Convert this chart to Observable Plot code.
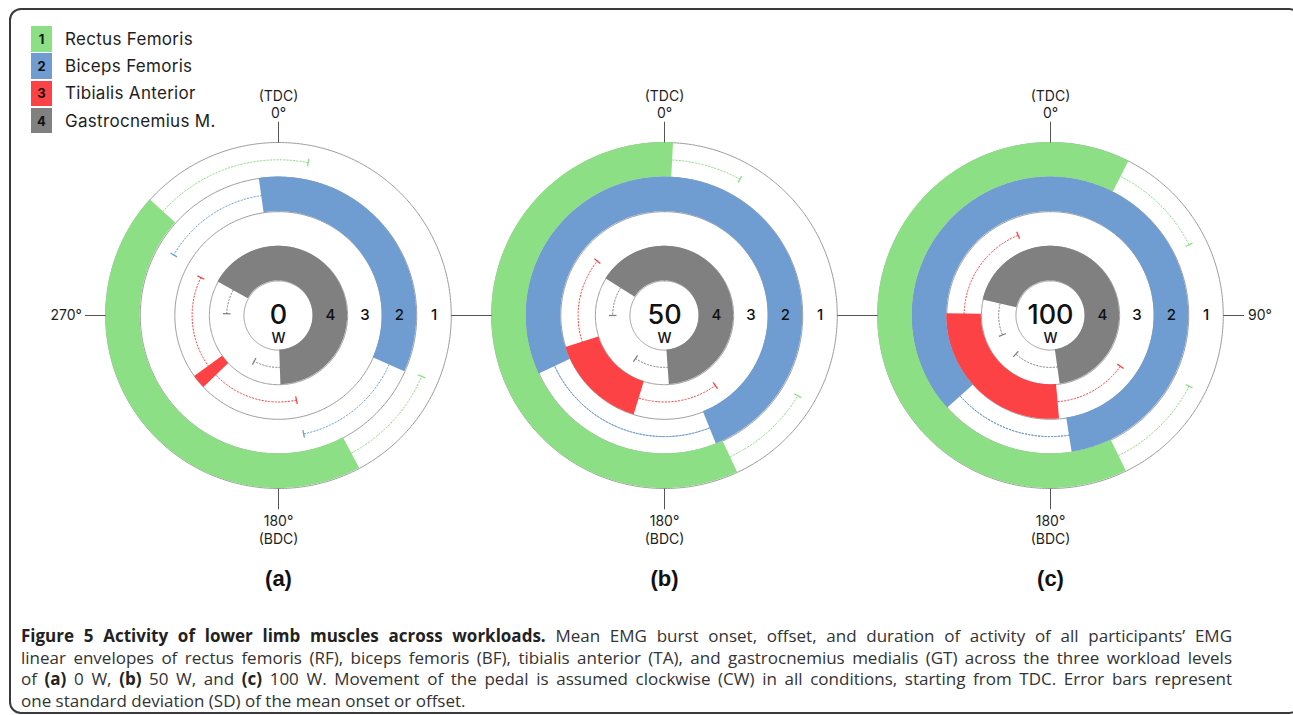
<!DOCTYPE html>
<html>
<head>
<meta charset="utf-8">
<script src="https://cdn.jsdelivr.net/npm/d3@7"></script>
<script src="https://cdn.jsdelivr.net/npm/@observablehq/plot@0.6"></script>
<style>
  html, body { margin: 0; padding: 0; background: #fff; }
  #page { position: relative; width: 1293px; height: 715px; overflow: hidden; font-family: Inter, "Noto Sans", sans-serif; color: #1e1e1e; }
  #frame { position: absolute; left: 9px; top: 8px; width: 1292px; height: 706px; border: 2px solid #3a3a3a; border-radius: 12px; box-sizing: border-box; }
  #chart { position: absolute; left: 0; top: 0; }
  #legend { position: absolute; left: 31px; top: 26px; }
  .row { display: flex; align-items: center; height: 25.5px; margin-bottom: 1.8px; }
  .sw { width: 21px; height: 25.5px; display: flex; align-items: center; justify-content: center; font: 700 13px Inter, sans-serif; color: #111; }
  .lb { margin-left: 13px; font-size: 17px; letter-spacing: 0.3px; color: #1e1e1e; }
  #caption { position: absolute; left: 21px; top: 625px; width: 1211px; font-family: "Open Sans", sans-serif; font-size: 17px; line-height: 21.5px; color: #333; }
  #caption .ln { white-space: nowrap; }
  #caption b { color: #222; }
</style>
</head>
<body>
<div id="page">
  <div id="frame"></div>
  <div id="chart"></div>
  <div id="legend"></div>
  <div id="caption">
    <div class="ln j"><b>Figure 5 Activity of lower limb muscles across workloads.</b> Mean EMG burst onset, offset, and duration of activity of all participants’ EMG</div>
    <div class="ln j">linear envelopes of rectus femoris (RF), biceps femoris (BF), tibialis anterior (TA), and gastrocnemius medialis (GT) across the three workload levels</div>
    <div class="ln j">of <b>(a)</b> 0 W, <b>(b)</b> 50 W, and <b>(c)</b> 100 W. Movement of the pedal is assumed clockwise (CW) in all conditions, starting from TDC. Error bars represent</div>
    <div class="ln">one standard deviation (SD) of the mean onset or offset.</div>
  </div>
</div>
<script>
// ---------- data ----------
const workloads = ["0", "50", "100"];
const panelLabels = ["(a)", "(b)", "(c)"];
const muscles = ["Rectus Femoris", "Biceps Femoris", "Tibialis Anterior", "Gastrocnemius M."];
const ringNumbers = ["1", "2", "3", "4"];
const colors = ["#8cdf85", "#6f9dd1", "#fd4245", "#808080"];
// crank angle in degrees, clockwise from TDC; rows = workloads, columns = RF, BF, TA, GT
const onsetDeg  = [[152, -8, 226, 299], [155, 245, 197, 302], [154, 228, 175, 283]];
const offsetDeg = [[312, 114, 234, 538], [363, 518, 252, 536], [387, 531, 271, 532]];
const onsetSD   = [[39, 52, 58, 27], [34, 92, 53, 32], [37, 62, 49, 35]];
const offsetSD  = [[59, 54, 62, 30], [26, 92, 57, 38], [36, 62, 67, 50]];
const axisAngles = [0, 90, 180, 270];
const topLabel = "(TDC)\n0°";
const bottomLabel = "180°\n(BDC)";
const leftLabel = "270°";
const rightLabel = "90°";
const unitLabel = "W";

// ---------- geometry helpers (polar -> cartesian in ring units) ----------
const R = 5;               // outer radius in ring units
const rad = d => d * Math.PI / 180;
const X = (r, a) => r * Math.sin(rad(a));
const Y = (r, a) => r * Math.cos(rad(a));
const steps = (a0, a1) => { const n = Math.max(2, Math.ceil(Math.abs(a1 - a0))); return d3.range(n + 1).map(k => a0 + (a1 - a0) * k / n); };

const bands = [], errs = [], caps = [], circles = [], ticks = [], ringText = [];
workloads.forEach((w, wi) => {
  for (let r = 1; r <= R; r++) for (const a of steps(0, 360)) circles.push({load: w, key: w + "c" + r, x: X(r, a), y: Y(r, a)});
  for (const a of axisAngles) ticks.push({load: w, x1: X(R, a), y1: Y(R, a), x2: X(R + 0.6, a), y2: Y(R + 0.6, a)});
  muscles.forEach((m, i) => {
    const ro = R - i, ri = R - 1 - i, rm = R - 0.5 - i;
    for (const a of steps(onsetDeg[wi][i], offsetDeg[wi][i]))
      bands.push({load: w, muscle: m, key: w + m, x1: X(ro, a), y1: Y(ro, a), x2: X(ri, a), y2: Y(ri, a)});
    const on0 = onsetDeg[wi][i] - onsetSD[wi][i], off1 = offsetDeg[wi][i] + offsetSD[wi][i];
    for (const a of steps(onsetDeg[wi][i], on0)) errs.push({load: w, muscle: m, key: w + m + "on", x: X(rm, a), y: Y(rm, a)});
    for (const a of steps(offsetDeg[wi][i], off1)) errs.push({load: w, muscle: m, key: w + m + "off", x: X(rm, a), y: Y(rm, a)});
    for (const a of [on0, off1]) caps.push({load: w, muscle: m, x1: X(rm - 0.11, a), y1: Y(rm - 0.11, a), x2: X(rm + 0.11, a), y2: Y(rm + 0.11, a)});
    ringText.push({load: w, label: ringNumbers[i], x: rm, y: 0});
  });
});

const loadsRows = workloads.map((w, i) => ({load: w, panel: panelLabels[i]}));
const font = "Inter, 'Noto Sans', sans-serif";

// layout: 34.6 px per ring unit, three facets 386.5 px wide
const pxu = 34.6, panelW = 386.5;
const xr = panelW / 2 / pxu;

const plot = Plot.plot({
  width: 1293,
  height: 600,
  marginLeft: 83.75,
  marginRight: 49.75,
  marginTop: 38.2,
  marginBottom: 600 - 38.2 - 16 * pxu,
  fx: {domain: workloads, padding: 0, axis: null},
  x: {domain: [-xr, xr], axis: null},
  y: {domain: [-8, 8], axis: null},
  color: {domain: muscles, range: colors},
  style: {background: "transparent", overflow: "visible"},
  marks: [
    Plot.line(circles, {fx: "load", x: "x", y: "y", z: "key", stroke: "#9c9c9c", strokeWidth: 1}),
    Plot.line(errs, {fx: "load", x: "x", y: "y", z: "key", stroke: "muscle", strokeWidth: 1, strokeDasharray: "1.3,2"}),
    Plot.link(caps, {fx: "load", x1: "x1", y1: "y1", x2: "x2", y2: "y2", stroke: "muscle", strokeWidth: 1.3}),
    Plot.area(bands, {fx: "load", x1: "x1", y1: "y1", x2: "x2", y2: "y2", z: "key", fill: "muscle", curve: "linear"}),
    Plot.link(ticks, {fx: "load", x1: "x1", y1: "y1", x2: "x2", y2: "y2", stroke: "#555", strokeWidth: 1}),
    Plot.text(loadsRows, {fx: "load", x: 0, y: R + 0.62, text: () => topLabel, lineAnchor: "bottom", dy: -3, lineHeight: 1.25, fontSize: 14, fontFamily: font, fill: "#1e1e1e"}),
    Plot.text(loadsRows, {fx: "load", x: 0, y: -(R + 0.62), text: () => bottomLabel, lineAnchor: "top", dy: 3, lineHeight: 1.3, fontSize: 14, fontFamily: font, fill: "#1e1e1e"}),
    Plot.text(loadsRows.filter(d => d.load === workloads[0]), {fx: "load", x: -(R + 0.6), y: 0, text: () => leftLabel, textAnchor: "end", dx: -3, fontSize: 14, fontFamily: font, fill: "#1e1e1e"}),
    Plot.text(loadsRows.filter(d => d.load === workloads[2]), {fx: "load", x: R + 0.6, y: 0, text: () => rightLabel, textAnchor: "start", dx: 4, fontSize: 14, fontFamily: font, fill: "#1e1e1e"}),
    Plot.text(ringText, {fx: "load", x: "x", y: "y", text: "label", fontSize: 15, fontWeight: 500, fontFamily: font, fill: "#111"}),
    Plot.text(loadsRows, {fx: "load", x: 0, y: 0, text: "load", fontSize: 27, fontWeight: 500, fontFamily: font, fill: "#111"}),
    Plot.text(loadsRows, {fx: "load", x: 0, y: -0.66, text: () => unitLabel, fontSize: 14, fontWeight: 500, fontFamily: font, fill: "#111"}),
    Plot.text(loadsRows, {fx: "load", x: 0, y: -7.62, text: "panel", fontSize: 22, fontWeight: "bold", fontFamily: "'Liberation Sans', Arial, sans-serif", fill: "#111"})
  ]
});
document.getElementById("chart").append(plot);

// legend
const legend = document.getElementById("legend");
muscles.forEach((m, i) => {
  const row = document.createElement("div"); row.className = "row";
  const sw = document.createElement("div"); sw.className = "sw"; sw.style.background = colors[i]; sw.textContent = ringNumbers[i];
  const lb = document.createElement("div"); lb.className = "lb"; lb.textContent = m;
  row.append(sw, lb); legend.append(row);
});

// justify the first three caption lines to the caption width
const target = 1211;
document.querySelectorAll("#caption .ln.j").forEach(el => {
  el.style.display = "inline-block";
  const w = el.getBoundingClientRect().width;
  const spaces = (el.textContent.match(/ /g) || []).length;
  el.style.wordSpacing = ((target - w) / spaces) + "px";
  el.style.display = "block";
});
</script>
</body>
</html>
